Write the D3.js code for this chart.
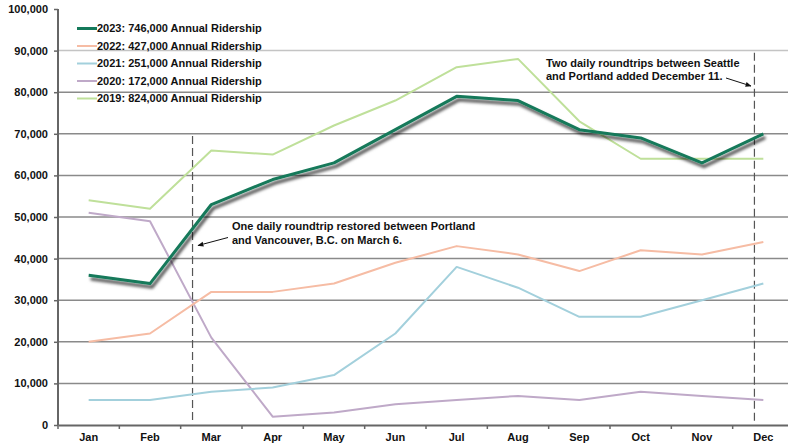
<!DOCTYPE html>
<html>
<head>
<meta charset="utf-8">
<style>
  body { margin: 0; background: #fff; }
  svg { display: block; font-family: "Liberation Sans", Arial, sans-serif; }
  .axis text { font-size: 11px; font-weight: bold; fill: #111; }
  .note { font-size: 11px; font-weight: bold; fill: #111; }
  .legend text { font-size: 11px; font-weight: bold; fill: #111; }
</style>
</head>
<body>
<svg width="788" height="446"></svg>
<script src="https://cdnjs.cloudflare.com/ajax/libs/d3/7.8.5/d3.min.js"></script>
<script>

// Monthly ridership
var months = ["Jan", "Feb", "Mar", "Apr", "May", "Jun", "Jul", "Aug", "Sep", "Oct", "Nov", "Dec"];
var yTicks = [0, 10000, 20000, 30000, 40000, 50000, 60000, 70000, 80000, 90000, 100000];

var r2023 = [36000, 34000, 53000, 59000, 63000, 71000, 79000, 78000, 71000, 69000, 63000, 70000];
var r2022 = [20000, 22000, 32000, 32000, 34000, 39000, 43000, 41000, 37000, 42000, 41000, 44000];
var r2021 = [6000, 6000, 8000, 9000, 12000, 22000, 38000, 33000, 26000, 26000, 30000, 34000];
var r2020 = [51000, 49000, 21000, 2000, 3000, 5000, 6000, 7000, 6000, 8000, 7000, 6000];
var r2019 = [54000, 52000, 66000, 65000, 72000, 78000, 86000, 88000, 73000, 64000, 64000, 64000];

var seriesNames = ["2023: 746,000 Annual Ridership", "2022: 427,000 Annual Ridership",
  "2021: 251,000 Annual Ridership", "2020: 172,000 Annual Ridership", "2019: 824,000 Annual Ridership"];

var series = [
  {name: seriesNames[0], values: r2023, color: "#14795a", width: 3, shadow: true},
  {name: seriesNames[1], values: r2022, color: "#f6bca4", width: 2},
  {name: seriesNames[2], values: r2021, color: "#a3d0dc", width: 2},
  {name: seriesNames[3], values: r2020, color: "#bfa9c8", width: 2},
  {name: seriesNames[4], values: r2019, color: "#bfe09a", width: 2}
];

// service change markers: month index + day of month, top of the dashed line
var events = [
  {month: 2, day: 6, days: 31, top: 69500, label: ["One daily roundtrip restored between Portland", "and Vancouver, B.C. on March 6."]},
  {month: 11, day: 11, days: 31, top: 89500, label: ["Two daily roundtrips between Seattle", "and Portland added December 11."]}
];

var svg = d3.select("svg"),
    margin = {top: 9, right: -6, bottom: 21, left: 58},
    width = +svg.attr("width") - margin.left - margin.right,
    height = +svg.attr("height") - margin.top - margin.bottom,
    g = svg.append("g").attr("transform", "translate(" + margin.left + "," + margin.top + ")");

var x = d3.scaleBand().domain(months).range([0, width]);
var y = d3.scaleLinear().domain([0, 100000]).range([height, 0]);

var defs = svg.append("defs");
var shadow = defs.append("filter").attr("id", "shadow")
    .attr("x", "-10%").attr("y", "-10%").attr("width", "120%").attr("height", "130%");
shadow.append("feDropShadow")
    .attr("dx", 2).attr("dy", 3.5).attr("stdDeviation", 1.6)
    .attr("flood-color", "#000").attr("flood-opacity", 0.75);

defs.append("marker").attr("id", "arrow")
    .attr("viewBox", "0 0 10 10").attr("refX", 9).attr("refY", 5)
    .attr("markerWidth", 6).attr("markerHeight", 6).attr("orient", "auto")
  .append("path").attr("d", "M0,1L10,5L0,9z").attr("fill", "#111");

// gridlines
g.append("g").selectAll("line")
    .data(yTicks.slice(1, -1))
    .enter().append("line")
      .attr("x1", 0).attr("x2", width)
      .attr("y1", function(d) { return y(d); })
      .attr("y2", function(d) { return y(d); })
      .attr("stroke", function(d) { return d === 90000 ? "#c4c4c4" : "#8a8a8a"; })
      .attr("stroke-width", 1.5);

// axes
var xAxis = g.append("g").attr("class", "axis")
    .attr("transform", "translate(0," + height + ")")
    .call(d3.axisBottom(x).tickSize(0).tickPadding(8));
xAxis.select(".domain").attr("stroke", "#666").attr("stroke-width", 2);
xAxis.selectAll(".sep").data(months.concat(["end"]))
    .enter().append("line").attr("class", "sep")
      .attr("x1", function(d, i) { return i * x.bandwidth(); })
      .attr("x2", function(d, i) { return i * x.bandwidth(); })
      .attr("y1", 0).attr("y2", 4)
      .attr("stroke", "#666").attr("stroke-width", 1.5);

var yAxis = g.append("g").attr("class", "axis")
    .call(d3.axisLeft(y).tickValues(yTicks).tickSize(4).tickPadding(6).tickFormat(d3.format(",")));
yAxis.select(".domain").attr("stroke", "#666").attr("stroke-width", 2).attr("d", "M0," + height + "V0");
yAxis.selectAll(".tick line").attr("stroke", "#666").attr("stroke-width", 1.5);

// event markers
events.forEach(function(e) {
  var ex = x(months[e.month]) + x.bandwidth() * e.day / e.days;
  g.append("line")
      .attr("x1", ex).attr("x2", ex)
      .attr("y1", y(e.top)).attr("y2", y(1000))
      .attr("stroke", "#555").attr("stroke-width", 1.2)
      .attr("stroke-dasharray", "8,4");
});

// lines
var line = d3.line()
    .x(function(d, i) { return x(months[i]) + x.bandwidth() / 2; })
    .y(function(d) { return y(d); });

series.slice().reverse().forEach(function(s) {
  g.append("path")
      .datum(s.values)
      .attr("fill", "none")
      .attr("stroke", s.color)
      .attr("stroke-width", s.width)
      .attr("stroke-linejoin", "round")
      .attr("filter", s.shadow ? "url(#shadow)" : null)
      .attr("d", line);
});

// annotations
var n1 = svg.append("text").attr("class", "note").attr("x", 232).attr("y", 230);
n1.append("tspan").attr("x", 232).text(events[0].label[0]);
n1.append("tspan").attr("x", 232).attr("dy", 13.5).text(events[0].label[1]);
svg.append("line").attr("x1", 228).attr("y1", 237.5).attr("x2", 198).attr("y2", 245.5)
    .attr("stroke", "#111").attr("stroke-width", 1).attr("marker-end", "url(#arrow)");

var n2 = svg.append("text").attr("class", "note").attr("x", 546).attr("y", 67);
n2.append("tspan").attr("x", 546).text(events[1].label[0]);
n2.append("tspan").attr("x", 546).attr("dy", 13).text(events[1].label[1]);
svg.append("line").attr("x1", 726).attr("y1", 78).attr("x2", 751).attr("y2", 86)
    .attr("stroke", "#111").attr("stroke-width", 1).attr("marker-end", "url(#arrow)");

// legend
var legend = svg.append("g").attr("class", "legend")
    .selectAll("g").data(series).enter().append("g")
      .attr("transform", function(d, i) { return "translate(77," + (28.5 + i * 17.5) + ")"; });
legend.append("line").attr("x1", 0).attr("x2", 20)
    .attr("stroke", function(d) { return d.color; })
    .attr("stroke-width", function(d) { return d.width; });
legend.append("text").attr("x", 20).attr("dy", "0.35em")
    .text(function(d) { return d.name; });

</script>
</body>
</html>
